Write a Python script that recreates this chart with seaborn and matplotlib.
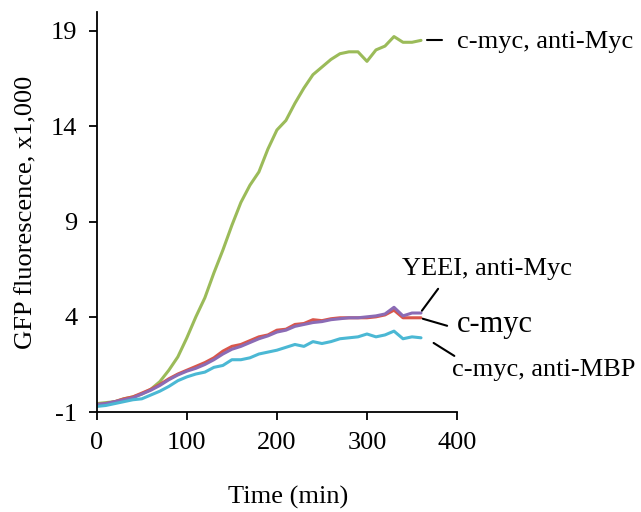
import numpy as np
import pandas as pd
import matplotlib
matplotlib.use("Agg")
import matplotlib.pyplot as plt
import seaborn as sns

# time points (min)
time_min = list(range(0, 361, 10))

# GFP fluorescence (x1,000)
myc_anti_myc = [-0.55, -0.5, -0.45, -0.3, -0.2, -0.05, 0.2, 0.6, 1.2, 1.9,
                2.9, 4.0, 5.0, 6.3, 7.5, 8.8, 10.0, 10.9, 11.6, 12.8,
                13.8, 14.3, 15.2, 16.0, 16.7, 17.1, 17.5, 17.8, 17.9, 17.9,
                17.4, 18.0, 18.2, 18.7, 18.4, 18.4, 18.5]
myc = [-0.6, -0.55, -0.45, -0.3, -0.2, 0.0, 0.2, 0.45, 0.75, 1.0,
       1.2, 1.4, 1.6, 1.85, 2.2, 2.45, 2.55, 2.75, 2.95, 3.05,
       3.3, 3.35, 3.6, 3.65, 3.85, 3.8, 3.9, 3.95, 3.95, 3.95,
       3.95, 4.0, 4.1, 4.35, 3.95, 3.95, 3.95]
yeei_anti_myc = [-0.6, -0.55, -0.45, -0.35, -0.25, -0.05, 0.15, 0.4, 0.7, 0.95,
                 1.15, 1.3, 1.5, 1.75, 2.05, 2.3, 2.45, 2.65, 2.85, 3.0,
                 3.2, 3.3, 3.5, 3.6, 3.7, 3.75, 3.85, 3.9, 3.95, 3.95,
                 4.0, 4.05, 4.15, 4.5, 4.05, 4.2, 4.2]
myc_anti_mbp = [-0.7, -0.65, -0.55, -0.45, -0.35, -0.3, -0.1, 0.1, 0.35, 0.65,
                0.85, 1.0, 1.1, 1.35, 1.45, 1.75, 1.75, 1.85, 2.05, 2.15,
                2.25, 2.4, 2.55, 2.45, 2.7, 2.6, 2.7, 2.85, 2.9, 2.95,
                3.1, 2.95, 3.05, 3.25, 2.85, 2.95, 2.9]

series = {
    "c-myc, anti-Myc": myc_anti_myc,
    "c-myc": myc,
    "YEEI, anti-Myc": yeei_anti_myc,
    "c-myc, anti-MBP": myc_anti_mbp,
}
colors = {
    "c-myc, anti-Myc": "#9BBB59",
    "c-myc": "#D9564B",
    "YEEI, anti-Myc": "#8B6BB5",
    "c-myc, anti-MBP": "#4BB8D4",
}

df = pd.concat([pd.DataFrame({"time": time_min, "gfp": v, "sample": k})
                for k, v in series.items()], ignore_index=True)

sns.set_style("ticks")
plt.rcParams["font.family"] = ["Liberation Serif", "DejaVu Serif"]
plt.rcParams["axes.unicode_minus"] = False
for key in ["text.color", "axes.labelcolor", "xtick.color", "ytick.color"]:
    plt.rcParams[key] = "black"

FS = 19

fig = plt.figure(figsize=(6.41, 5.12), dpi=100)
ax = fig.add_axes([0.151, 0.195, 0.562, 0.782])

sns.lineplot(data=df, x="time", y="gfp", hue="sample", palette=colors,
             linewidth=2.2, legend=False, ax=ax)

ax.set_xlim(0, 400)
ax.set_ylim(-1, 20)
ax.set_xticks([0, 100, 200, 300, 400])
ax.set_yticks([-1, 4, 9, 14, 19])
ax.tick_params(direction="out", length=6, width=1.3, labelsize=FS, color="black")
ax.tick_params(axis="x", pad=8)
ax.tick_params(axis="y", pad=8)
for s in ["left", "bottom"]:
    ax.spines[s].set_linewidth(1.3)
    ax.spines[s].set_color("black")
sns.despine(ax=ax)

ax.set_xlabel("Time (min)", fontsize=FS)
ax.xaxis.set_label_coords(0.53, -0.185)
ax.set_ylabel("GFP fluorescence, x1,000", fontsize=FS, labelpad=10)

# labels at the line ends
lw = 1.5
ax.plot([367, 383], [18.53, 18.53], color="black", lw=lw, clip_on=False)
ax.text(400, 18.4, "c-myc, anti-Myc", fontsize=FS, va="center", ha="left")

ax.plot([379, 361], [5.47, 4.32], color="black", lw=lw, clip_on=False)
ax.text(433, 6.5, "YEEI, anti-Myc", fontsize=FS, va="center", ha="center")

ax.plot([362, 389], [3.9, 3.53], color="black", lw=lw, clip_on=False)
ax.text(400, 3.6, "c-myc", fontsize=22, va="center", ha="left")

ax.plot([374, 397], [2.63, 1.95], color="black", lw=lw, clip_on=False)
ax.text(394, 1.2, "c-myc, anti-MBP", fontsize=FS, va="center", ha="left")

plt.savefig("out.png", dpi=100)
